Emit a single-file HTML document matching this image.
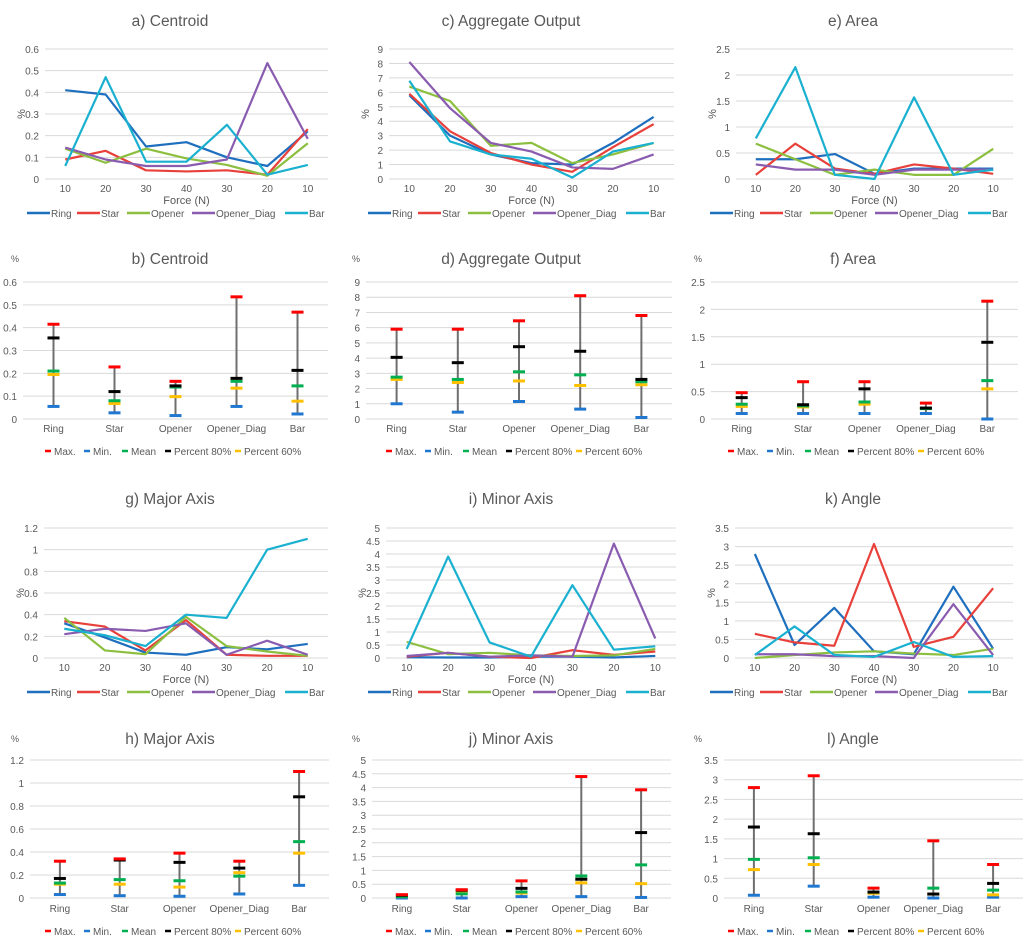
<!DOCTYPE html>
<html><head><meta charset="utf-8"><style>
html,body{margin:0;padding:0;background:#fff;}
svg{display:block;font-family:"Liberation Sans",sans-serif;}
</style></head><body>
<svg id="chart" width="1024" height="950" viewBox="0 0 1024 950" xmlns="http://www.w3.org/2000/svg"></svg>
<script>
const forceLabels = ["10","20","30","40","30","20","10"];
const seriesNames = ["Ring","Star","Opener","Opener_Diag","Bar"];
const statNames = ["Max.","Min.","Mean","Percent 80%","Percent 60%"];
// a) Centroid
const centroidRing=[.41,.39,.15,.17,.10,.06,.22];
const centroidStar=[.09,.13,.04,.035,.04,.02,.23];
const centroidOpener=[.14,.075,.14,.095,.065,.015,.165];
const centroidDiag=[.145,.09,.06,.06,.09,.535,.185];
const centroidBar=[.06,.47,.08,.08,.25,.02,.065];
const centroidTicks=[0,.1,.2,.3,.4,.5,.6];
// c) Aggregate
const aggRing=[5.8,3.0,1.7,1.1,1.0,2.5,4.3];
const aggStar=[5.9,3.3,1.8,1.0,0.5,2.2,3.8];
const aggOpener=[6.4,5.4,2.3,2.5,1.1,1.7,2.5];
const aggDiag=[8.1,4.9,2.5,1.9,0.8,0.7,1.7];
const aggBar=[6.8,2.6,1.7,1.4,0.1,1.9,2.5];
const aggTicks=[0,1,2,3,4,5,6,7,8,9];
// e) Area
const areaRing=[.38,.38,.48,.1,.2,.2,.2];
const areaStar=[.08,.68,.2,.1,.28,.2,.1];
const areaOpener=[.68,.38,.08,.18,.08,.08,.58];
const areaDiag=[.28,.18,.18,.08,.18,.18,.18];
const areaBar=[.78,2.15,.08,0,1.57,.08,.18];
const areaTicks=[0,.5,1,1.5,2,2.5];
// g) Major
const majRing=[.32,.19,.05,.03,.1,.08,.13];
const majStar=[.34,.29,.07,.35,.03,.02,.02];
const majOpener=[.37,.07,.035,.38,.11,.06,.02];
const majDiag=[.22,.27,.25,.32,.03,.16,.03];
const majBar=[.27,.21,.11,.4,.37,1.0,1.1];
const majTicks=[0,.2,.4,.6,.8,1,1.2];
// i) Minor
const minRing=[.03,.02,.02,.05,.05,.02,.08];
const minStar=[.05,.2,.05,0,.3,.12,.25];
const minOpener=[.62,.15,.2,.1,.08,.1,.35];
const minDiag=[.08,.2,.05,.1,.05,4.4,.75];
const minBar=[.35,3.9,.6,.05,2.8,.32,.45];
const minTicks=[0,.5,1,1.5,2,2.5,3,3.5,4,4.5,5];
// k) Angle
const angRing=[2.8,.35,1.35,.18,.1,1.92,.25];
const angStar=[.65,.42,.33,3.07,.3,.57,1.88];
const angOpener=[0,.08,.15,.18,.12,.08,.25];
const angDiag=[.1,.1,.05,.05,0,1.45,.08];
const angBar=[.08,.85,.08,.03,.43,.03,.05];
const angTicks=[0,.5,1,1.5,2,2.5,3,3.5];
// stats [Max, Min, Mean, P80, P60] per category
const statB=[[.415,.055,.21,.355,.195],[.228,.027,.08,.12,.068],[.165,.015,.14,.145,.098],[.535,.055,.165,.178,.135],[.468,.022,.145,.213,.078]];
const statD=[[5.9,1.0,2.75,4.05,2.6],[5.9,.45,2.6,3.7,2.4],[6.45,1.15,3.1,4.75,2.5],[8.1,.65,2.9,4.45,2.2],[6.8,.1,2.45,2.6,2.25]];
const statF=[[.48,.1,.27,.39,.23],[.68,.1,.24,.26,.22],[.68,.1,.31,.55,.27],[.29,.1,.19,.2,.19],[2.15,0,.7,1.4,.55]];
const statH=[[.32,.03,.13,.17,.12],[.34,.02,.16,.33,.12],[.39,.015,.15,.31,.095],[.32,.035,.19,.26,.22],[1.1,.11,.49,.88,.39]];
const statJ=[[.12,0,.05,.1,.05],[.3,0,.15,.28,.2],[.62,.05,.22,.35,.18],[4.4,.05,.8,.68,.55],[3.92,.02,1.2,2.37,.52]];
const statL=[[2.8,.07,.98,1.8,.72],[3.1,.3,1.02,1.63,.85],[.25,.02,.15,.15,.12],[1.45,0,.25,.1,.1],[.85,.02,.2,.37,.08]];

const NS="http://www.w3.org/2000/svg";
const svg=document.getElementById('chart');
const serColors=["#1f6fbf","#e8403a","#8cbf3f","#8a5cb0","#1ab0d0"];
const statColors=["#ff0000","#1f77d0","#00b050","#000000","#ffc000"];
function mk(tag,attrs,parent){const e=document.createElementNS(NS,tag);for(const k in attrs)e.setAttribute(k,attrs[k]);(parent||svg).appendChild(e);return e;}
function txt(x,y,s,size,anchor,parent){const t=mk('text',{x:x,y:y,'font-size':size,'text-anchor':anchor||'middle',fill:'#595959'},parent);t.textContent=s;return t;}

function axes(g,x0,x1,yTop,yZero,ticks,title,tx,ty){
  const max=ticks[ticks.length-1];
  const ys=v=>yZero-(v/max)*(yZero-yTop);
  ticks.forEach(v=>{
    const l=mk('line',{x1:x0,x2:x1,y1:ys(v),y2:ys(v),stroke:'#d9d9d9','stroke-width':1},g);
    
    
    const t=txt(x0-6,ys(v)+4,String(v),10,'end',g);
    
    
  });
  const tt=txt(tx,ty,title,15.5,'middle',g);
  
  
  return ys;
}

function lineChart(name,col0,x0,x1,yTop,yZero,ticks,series,title,catY,titleY){
  const g=mk('g',{});
  
  
  const ys=axes(g,x0,x1,yTop,yZero,ticks,title,col0+170,titleY);
  const step=(x1-x0)/forceLabels.length;
  const xs=i=>x0+step*(i+0.5);
  forceLabels.forEach((c,i)=>{const t=txt(xs(i),catY,c,10,'middle',g);
    
    });
  const xt=txt((x0+x1)/2,catY+12,'Force (N)',11,'middle',g);
  
  
  const yt=mk('text',{x:0,y:0,'font-size':11,fill:'#595959','text-anchor':'middle',transform:`translate(${x0-20},${(yTop+yZero)/2}) rotate(-90)`},g);
  yt.textContent='%';
  
  
  series.forEach((arr,si)=>{
    const p=mk('polyline',{points:arr.map((v,i)=>xs(i)+','+ys(v)).join(' '),fill:'none',stroke:serColors[si],'stroke-width':2.2,'stroke-linejoin':'round'},g);
    
    
  });
  const offs=[27,77,127,192,285];
  seriesNames.forEach((s,si)=>{
    const ly=catY+25;
    const l=mk('line',{x1:col0+offs[si],x2:col0+offs[si]+23,y1:ly-4,y2:ly-4,stroke:serColors[si],'stroke-width':2.5},g);
    
    
    const t=txt(col0+offs[si]+24,ly,s,10,'start',g);
    
    
  });
}

function statChart(name,col0,x0,x1,yTop,yZero,ticks,stats,title,catY,titleY){
  const g=mk('g',{});
  
  
  const ys=axes(g,x0,x1,yTop,yZero,ticks,title,col0+170,titleY+6);
  const pct=txt(col0+15,titleY+4,'%',9,'middle',g);
  
  
  const step=(x1-x0)/seriesNames.length;
  const xs=i=>x0+step*(i+0.5);
  seriesNames.forEach((c,i)=>{const t=txt(xs(i),catY,c,10,'middle',g);
    
    });
  stats.forEach((row,i)=>{
    const x=xs(i);
    const hi=Math.max(...row), lo=Math.min(...row);
    const l=mk('line',{x1:x,x2:x,y1:ys(hi),y2:ys(lo),stroke:'#6f6f6f','stroke-width':2},g);
    
    
    [1,4,2,3,0].forEach(k=>{
      const m=mk('line',{x1:x-6,x2:x+6,y1:ys(row[k]),y2:ys(row[k]),stroke:statColors[k],'stroke-width':3},g);
      
      
    });
  });
  const offs=[48,87,125,168,238];
  statNames.forEach((s,k)=>{
    const ly=catY+23;
    const l=mk('line',{x1:col0+offs[k]-3,x2:col0+offs[k]+3,y1:ly-4,y2:ly-4,stroke:statColors[k],'stroke-width':2.5},g);
    
    
    const t=txt(col0+offs[k]+6,ly,s,10,'start',g);
    
    
  });
}

lineChart('centroid-line-chart',0,45,328,49,179,centroidTicks,[centroidRing,centroidStar,centroidOpener,centroidDiag,centroidBar],'a) Centroid',192,26);
lineChart('aggregate-line-chart',341,389,674,49,179,aggTicks,[aggRing,aggStar,aggOpener,aggDiag,aggBar],'c) Aggregate Output',192,26);
lineChart('area-line-chart',683,736,1013,49,179,areaTicks,[areaRing,areaStar,areaOpener,areaDiag,areaBar],'e) Area',192,26);
statChart('centroid-stat-chart',0,23,328,282,419,centroidTicks,statB,'b) Centroid',432,258);
statChart('aggregate-stat-chart',341,366,672,282,419,aggTicks,statD,'d) Aggregate Output',432,258);
statChart('area-stat-chart',683,711,1018,282,419,areaTicks,statF,'f) Area',432,258);
lineChart('major-line-chart',0,44,328,528,658,majTicks,[majRing,majStar,majOpener,majDiag,majBar],'g) Major Axis',671,504);
lineChart('minor-line-chart',341,386,676,528,658,minTicks,[minRing,minStar,minOpener,minDiag,minBar],'i) Minor Axis',671,504);
lineChart('angle-line-chart',683,735,1013,528,658,angTicks,[angRing,angStar,angOpener,angDiag,angBar],'k) Angle',671,504);
statChart('major-stat-chart',0,30,329,760,898,majTicks,statH,'h) Major Axis',912,738);
statChart('minor-stat-chart',341,372,671,760,898,minTicks,statJ,'j) Minor Axis',912,738);
statChart('angle-stat-chart',683,724,1023,760,898,angTicks,statL,'l) Angle',912,738);
</script>
</body></html>
